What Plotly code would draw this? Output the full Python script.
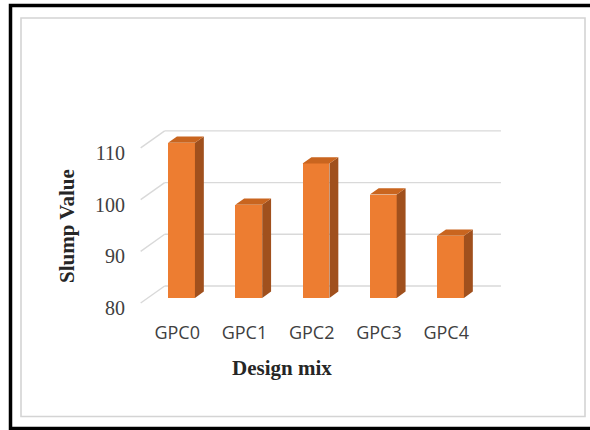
import plotly.graph_objects as go

# ---- data ----
categories = ["GPC0", "GPC1", "GPC2", "GPC3", "GPC4"]
slump_values = [110, 98, 106, 100, 92]
y_ticks = [80, 90, 100, 110]
y_tick_labels = ["80", "90", "100", "110"]
x_title = "Design mix"
y_title = "Slump Value"

# ---- pseudo-3D projection settings (style) ----
DX = -0.357      # x shift (category units) from back wall to front plane
DY = -3.29       # y shift (value units) from back wall to front plane
D_FRONT = 0.70   # depth of bar front face (0 = back, 1 = front)
D_BACK = 0.33    # depth of bar back face
BAR_W = 0.40
BASE = y_ticks[0]

FRONT_C = "#ED7D31"
SIDE_C = "#A0501D"
TOP_C = "#C9651F"
GRID_C = "#D9D9D9"

# ---- layout geometry ----
FIG_W, FIG_H = 590, 430
L, T, PW, PH = 140, 100, 361, 216
X0_PX, SX = 198.3, 67.25
Y80_PX, SY = 286.0, 5.17
x_range = [(L - X0_PX) / SX, (L + PW - X0_PX) / SX]
y_range = [BASE - (T + PH - Y80_PX) / SY, BASE + (Y80_PX - T) / SY]
TICK_DROP_PX = 5.0


def px_x(px):
    return (px - L) / PW


def px_y(py):
    return 1 - (py - T) / PH


fig = go.Figure()

# front faces as bars
fig.add_trace(go.Bar(
    x=[i + DX * D_FRONT for i in range(len(categories))],
    y=[v - BASE for v in slump_values],
    base=BASE + DY * D_FRONT,
    width=BAR_W,
    marker=dict(color=FRONT_C, line=dict(width=0)),
    hoverinfo="skip",
    showlegend=False,
))

# side and top faces
side_x, side_y, top_x, top_y = [], [], [], []
for i, v in enumerate(slump_values):
    xl = i - BAR_W / 2
    xr = i + BAR_W / 2
    side_x += [xr + DX * D_FRONT, xr + DX * D_BACK, xr + DX * D_BACK, xr + DX * D_FRONT, None]
    side_y += [BASE + DY * D_FRONT, BASE + DY * D_BACK, v + DY * D_BACK, v + DY * D_FRONT, None]
    top_x += [xl + DX * D_FRONT, xr + DX * D_FRONT, xr + DX * D_BACK, xl + DX * D_BACK, None]
    top_y += [v + DY * D_FRONT, v + DY * D_FRONT, v + DY * D_BACK, v + DY * D_BACK, None]

fig.add_trace(go.Scatter(x=side_x, y=side_y, mode="lines", fill="toself",
                         fillcolor=SIDE_C, line=dict(width=0, color=SIDE_C),
                         hoverinfo="skip", showlegend=False))
fig.add_trace(go.Scatter(x=top_x, y=top_y, mode="lines", fill="toself",
                         fillcolor=TOP_C, line=dict(width=0, color=TOP_C),
                         hoverinfo="skip", showlegend=False))

shapes = []
# gridlines: back wall + floor-side diagonal
n = len(categories)
for v in y_ticks:
    shapes.append(dict(type="line", xref="x", yref="y", layer="below",
                       x0=-0.5 + DX, y0=v + DY, x1=-0.5, y1=v,
                       line=dict(color=GRID_C, width=1.4)))
    shapes.append(dict(type="line", xref="x", yref="y", layer="below",
                       x0=-0.5, y0=v, x1=n - 0.5, y1=v,
                       line=dict(color=GRID_C, width=1.4)))

# inner light-gray chart frame
shapes.append(dict(type="rect", xref="paper", yref="paper", layer="below",
                   x0=px_x(21), x1=px_x(585), y0=px_y(416.5), y1=px_y(18),
                   line=dict(color="#D4D4D4", width=1.6), fillcolor="rgba(0,0,0,0)"))
# outer black frame (open on the right)
shapes.append(dict(type="path", xref="paper", yref="paper",
                   path=(f"M {px_x(592)} {px_y(5.5)} L {px_x(10.5)} {px_y(5.5)} "
                         f"L {px_x(10.5)} {px_y(428.5)} L {px_x(592)} {px_y(428.5)}"),
                   line=dict(color="black", width=3.5)))

annotations = [
    dict(text=f"<b>{x_title}</b>", xref="paper", yref="paper",
         x=px_x(282), y=px_y(368), xanchor="center", yanchor="middle",
         showarrow=False, font=dict(family="Liberation Serif", size=21, color="#262626")),
    dict(text=f"<b>{y_title}</b>", xref="paper", yref="paper",
         x=px_x(67), y=px_y(226), xanchor="center", yanchor="middle", textangle=-90,
         showarrow=False, font=dict(family="Liberation Serif", size=21, color="#262626")),
]

fig.update_layout(
    width=FIG_W, height=FIG_H,
    margin=dict(l=L, r=FIG_W - L - PW, t=T, b=FIG_H - T - PH, pad=0),
    paper_bgcolor="white", plot_bgcolor="white",
    bargap=0,
    shapes=shapes,
    annotations=annotations,
    xaxis=dict(range=x_range, showgrid=False, zeroline=False, showline=False,
               tickmode="array",
               tickvals=[i + DX * 0.88 for i in range(n)],
               ticktext=categories, ticks="", ticklabelstandoff=4,
               tickfont=dict(family="Open Sans", size=18, color="#404040"),
               fixedrange=True),
    yaxis=dict(range=y_range, showgrid=False, zeroline=False, showline=False,
               tickmode="array",
               tickvals=[v + DY - TICK_DROP_PX / SY for v in y_ticks],
               ticktext=y_tick_labels, ticks="", ticklabelstandoff=14,
               tickfont=dict(family="Liberation Serif", size=20, color="#404040"),
               fixedrange=True),
)

fig.write_html("out.html")
